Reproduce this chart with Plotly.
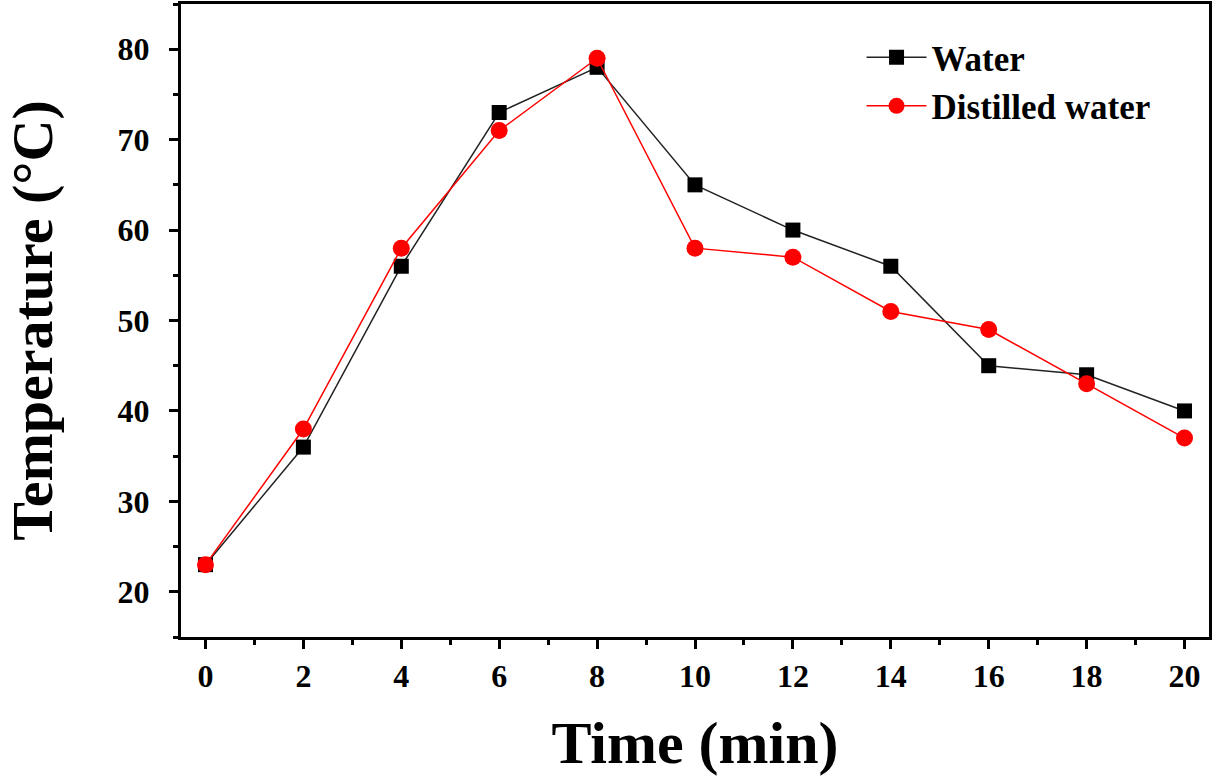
import plotly.graph_objects as go

time_min = [0, 2, 4, 6, 8, 10, 12, 14, 16, 18, 20]
water = [23, 36, 56, 73, 78, 65, 60, 56, 45, 44, 40]
distilled = [23, 38, 58, 71, 79, 58, 57, 51, 49, 43, 37]

font_name = "Liberation Serif"

fig = go.Figure()

fig.add_trace(go.Scatter(
    x=time_min, y=water, mode="lines+markers", name="<b>Water</b>",
    line=dict(color="#222222", width=1.5),
    marker=dict(symbol="square", size=15, color="black"),
))
fig.add_trace(go.Scatter(
    x=time_min, y=distilled, mode="lines+markers", name="<b>Distilled water</b>",
    line=dict(color="red", width=1.5),
    marker=dict(symbol="circle", size=17, color="red"),
))

axis_common = dict(
    showline=True, linecolor="black", linewidth=3, mirror=True,
    ticks="outside", tickwidth=3, ticklen=9, tickcolor="black",
    showgrid=False, zeroline=False, automargin=False,
    tickfont=dict(family=font_name, size=32, color="black"),
)

fig.update_xaxes(
    range=[-0.5, 20.5], tickvals=time_min,
    ticktext=[f"<b>{t}</b>" for t in time_min],
    minor=dict(dtick=1, tick0=0, ticks="outside", ticklen=5, tickwidth=3, tickcolor="black"),
    title=dict(text="<b>Time (min)</b>", font=dict(family=font_name, size=60, color="black"), standoff=28),
    **axis_common,
)
y_ticks = [20, 30, 40, 50, 60, 70, 80]
fig.update_yaxes(
    range=[15, 85], tickvals=y_ticks,
    ticktext=[f"<b>{t}</b>" for t in y_ticks],
    minor=dict(dtick=5, tick0=15, ticks="outside", ticklen=5, tickwidth=3, tickcolor="black"),
    ticklabelstandoff=13,
    title=dict(text="<b>Temperature (°C)</b>", font=dict(family=font_name, size=58, color="black"), standoff=78),
    **axis_common,
)

fig.update_layout(
    width=1213, height=776,
    margin=dict(l=181, r=4, t=4, b=139),
    paper_bgcolor="white", plot_bgcolor="white",
    showlegend=True,
    legend=dict(
        x=0.662, y=0.962, xanchor="left", yanchor="top",
        font=dict(family=font_name, size=35, color="black"),
        bgcolor="rgba(0,0,0,0)", itemwidth=60, tracegroupgap=0,
    ),
)

# drop the default 8px page margin so the figure fills the window exactly
fig.write_html("out.html", config={"displayModeBar": False},
               post_script="document.body.style.margin='0';")
